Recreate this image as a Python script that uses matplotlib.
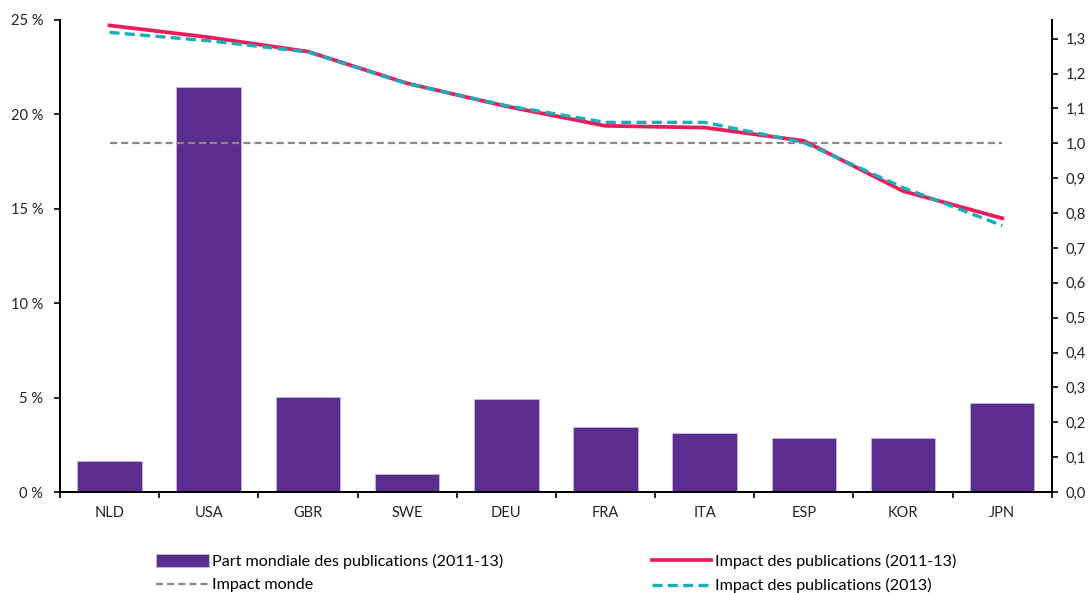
import matplotlib.pyplot as plt
import numpy as np

plt.rcParams['font.family'] = ['Lato', 'DejaVu Sans']

pays = ["NLD", "USA", "GBR", "SWE", "DEU", "FRA", "ITA", "ESP", "KOR", "JPN"]
part_mondiale = [1.64, 21.47, 5.05, 0.94, 4.93, 3.43, 3.14, 2.84, 2.84, 4.73]
impact_2011_13 = [1.338, 1.304, 1.263, 1.172, 1.106, 1.050, 1.045, 1.007, 0.863, 0.785]
impact_2013 = [1.318, 1.294, 1.262, 1.171, 1.108, 1.060, 1.060, 1.002, 0.873, 0.764]
impact_monde = [1.0] * len(pays)

violet = "#5B2D8E"
rouge = "#EC1C5B"
turquoise = "#17AEB9"
gris = "#888888"

fig = plt.figure(figsize=(10.9, 5.93), dpi=100)
ax = fig.add_axes([0.055, 0.1703, 0.910, 0.7960])
ax2 = ax.twinx()

x = np.arange(len(pays))
barres = ax.bar(x, part_mondiale, width=0.65, color=violet, edgecolor="#C8B8E0", linewidth=0.6, zorder=2)

l_monde, = ax2.plot(x, impact_monde, color=gris, linestyle=(0, (3.2, 1.8)), linewidth=1.6)
l_rouge, = ax2.plot(x, impact_2011_13, color=rouge, linewidth=2.7)
l_turq, = ax2.plot(x, impact_2013, color=turquoise, linestyle=(0, (3.0, 1.6)), linewidth=2.4)

ax.set_xlim(-0.5, len(pays) - 0.5)
ax.set_ylim(0, 25)
ax2.set_ylim(0, 1.3536)

ax.set_yticks([0, 5, 10, 15, 20, 25])
ax.set_yticklabels([f"{v} %" for v in [0, 5, 10, 15, 20, 25]])
ticks_droite = np.round(np.arange(0, 1.31, 0.1), 1)
ax2.set_yticks(ticks_droite)
ax2.set_yticklabels([f"{v:.1f}".replace(".", ",") for v in ticks_droite])

ax.set_xticks(x)
ax.set_xticklabels(pays)
ax.set_xticks(np.arange(-0.5, len(pays)), minor=True)
ax.tick_params(axis="x", which="major", length=0, pad=10, labelsize=10.5, colors="#222222")
ax.tick_params(axis="x", which="minor", length=4, width=1.2, direction="out", color="black")
ax.tick_params(axis="y", length=4, width=1.2, direction="out", labelsize=10.5, pad=8, colors="#222222")
ax2.tick_params(axis="y", length=4, width=1.2, direction="out", labelsize=10.5, pad=6, colors="#222222")
for a in (ax, ax2):
    a.tick_params(axis="both", color="black")

for a in (ax, ax2):
    a.spines["top"].set_visible(False)
    for s in ("left", "right", "bottom"):
        a.spines[s].set_linewidth(1.4)
        a.spines[s].set_color("black")

# legende en deux colonnes sous le graphique (la 2e ligne est coupee dans l'original)
haut1 = 0.077
haut2 = 0.036
taille = 11.6
fig.legend([barres], ["Part mondiale des publications (2011-13)"],
           loc="upper left", bbox_to_anchor=(0.137, haut1), frameon=False,
           fontsize=taille, handlelength=3.3, handleheight=0.9, handletextpad=0.2, borderaxespad=0)
fig.legend([l_monde], ["Impact monde"],
           loc="upper left", bbox_to_anchor=(0.137, haut2), frameon=False,
           fontsize=taille, handlelength=3.3, handletextpad=0.2, borderaxespad=0)
fig.legend([l_rouge], ["Impact des publications (2011-13)"],
           loc="upper left", bbox_to_anchor=(0.592, haut1), frameon=False,
           fontsize=taille, handlelength=3.7, handletextpad=0.2, borderaxespad=0)
fig.legend([l_turq], ["Impact des publications (2013)"],
           loc="upper left", bbox_to_anchor=(0.592, haut2), frameon=False,
           fontsize=taille, handlelength=3.7, handletextpad=0.2, borderaxespad=0)

fig.savefig("out.png", dpi=100)
